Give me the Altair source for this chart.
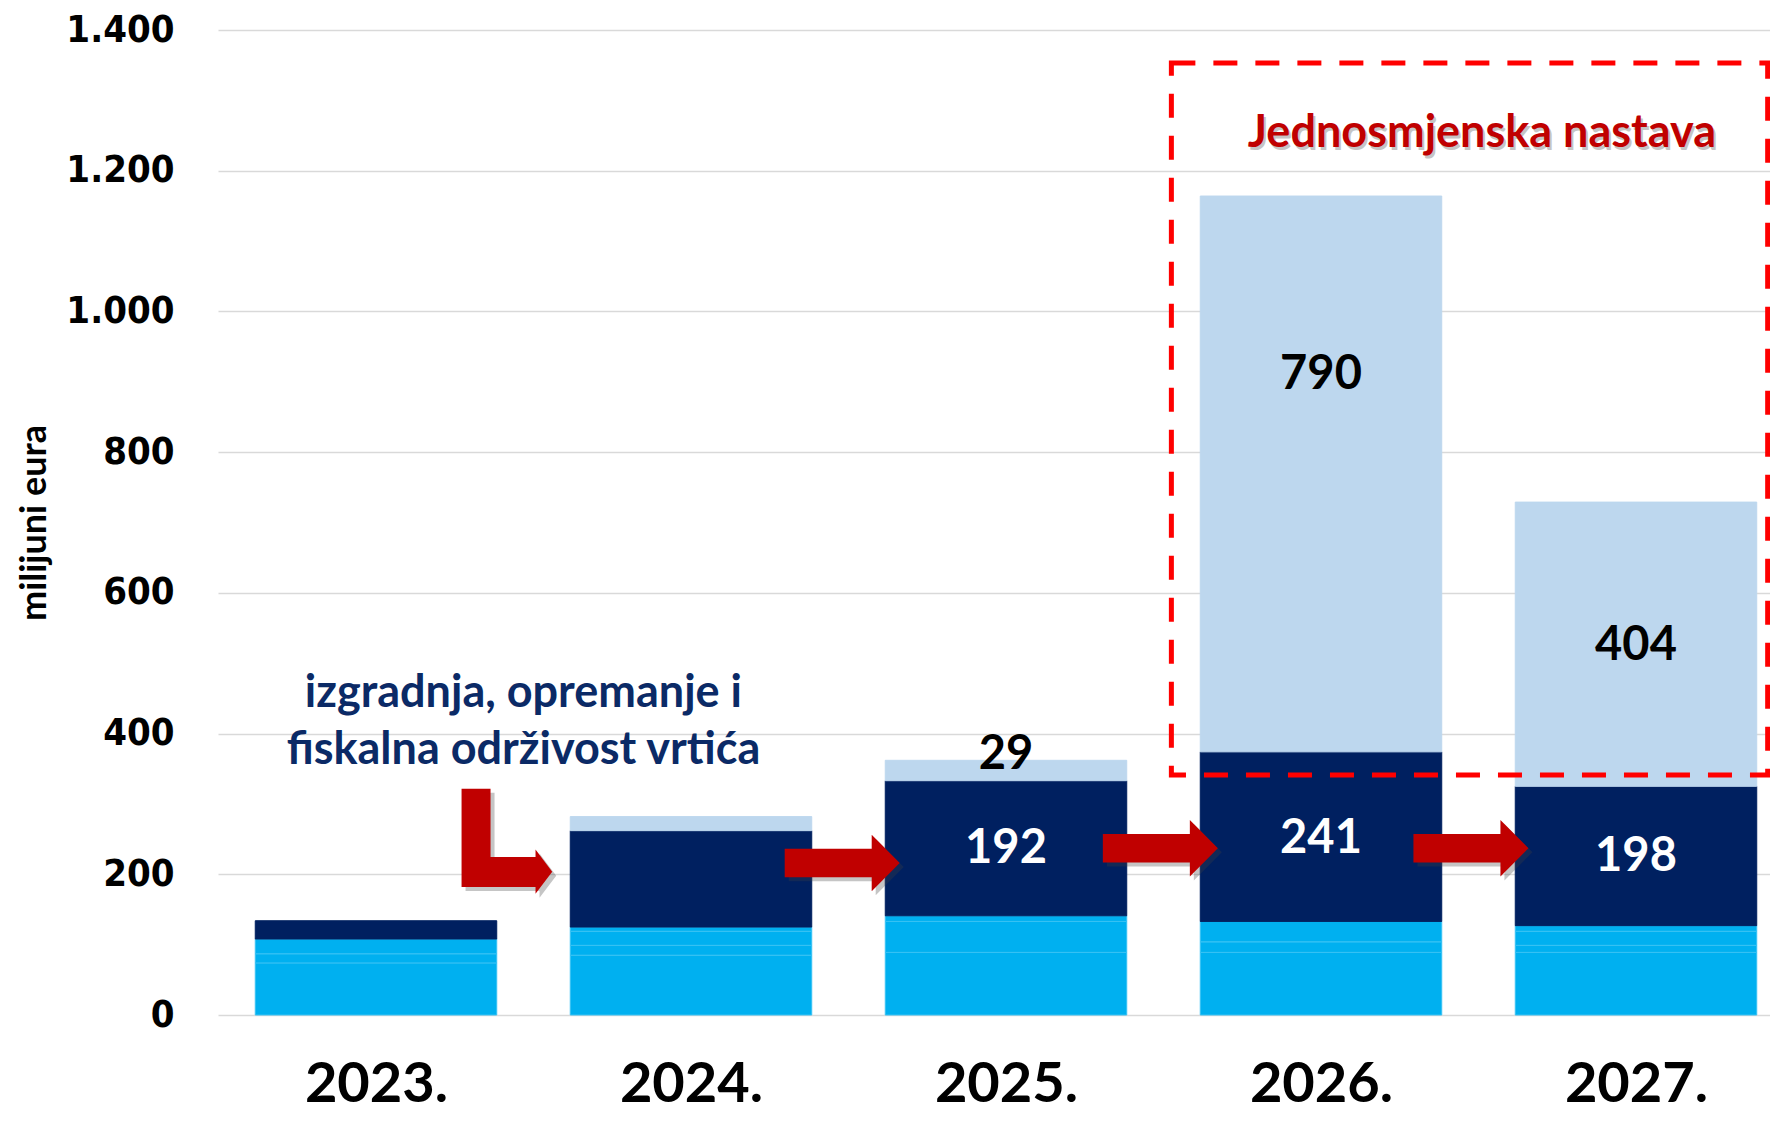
import json
import pandas as pd
import altair as alt

# ---------------- data ----------------
years = ["2023.", "2024.", "2025.", "2026.", "2027."]
cyan_a = [74, 85, 89, 89, 89]
cyan_b = [13, 14, 44, 15, 10]
cyan_c = [21, 20, 8, 29, 20]
cyan_d = [0, 6, 0, 0, 8]
navy_vals = [26, 137, 192, 241, 198]
light_vals = [0, 20, 29, 790, 404]

label_year = ["2025.", "2025.", "2026.", "2026.", "2027.", "2027."]
label_text = ["29", "192", "241", "790", "198", "404"]
label_series = ["light", "navy", "navy", "light", "navy", "light"]
label_at = [370, 236, 250, 909, 224, 524]

series_names = ["c1", "c2", "c3", "c4", "navy", "light"]
series_fill = ["#00B0F0", "#00B0F0", "#00B0F0", "#00B0F0", "#002060", "#BDD7EE"]
series_stroke = ["#38C2F4", "#38C2F4", "#38C2F4", "#38C2F4", "#002060", "#BDD7EE"]

# annotation positions (x in year-index units, y in data units)
box_x = [2.525, 4.418]
box_y = [341, 1353]
note_text = "izgradnja, opremanje i\nfiskalna održivost vrtića"
note_pos = [0.468, 457]
title_text = "Jednosmjenska nastava"
title_pos = [3.511, 1253]
h_arrow_u = [1.48, 2.49, 3.476]
h_arrow_v = [216, 237, 237]
l_arrow_pos = [0.4156, 247]

# ---------------- tables ----------------
rows = []
cols = [cyan_a, cyan_b, cyan_c, cyan_d, navy_vals, light_vals]
for i, y in enumerate(years):
    for k, s in enumerate(series_names):
        v = cols[k][i]
        if v > 0:
            rows.append({"year": y, "idx": i, "series": s, "value": v, "order": k})
df_bars = pd.DataFrame(rows)

df_labels = pd.DataFrame({
    "idx": [years.index(y) for y in label_year],
    "text": label_text,
    "series": label_series,
    "at": label_at,
})
df_box = pd.DataFrame({"x0": [box_x[0]], "x1": [box_x[1]], "y0": [box_y[0]], "y1": [box_y[1]]})
df_note = pd.DataFrame({"u": [note_pos[0]], "v": [note_pos[1]], "t": [note_text]})
df_title = pd.DataFrame({"u": [title_pos[0]], "v": [title_pos[1]], "t": [title_text]})
df_harrows = pd.DataFrame({"u": h_arrow_u, "v": h_arrow_v})
df_larrow = pd.DataFrame({"u": [l_arrow_pos[0]], "v": [l_arrow_pos[1]]})

# ---------------- scales / axes ----------------
W, H = 1552, 985
xs = alt.Scale(domain=[-0.5016, 4.4254], nice=False, zero=False)
ys = alt.Scale(domain=[0, 1400], nice=False)

x_axis = alt.Axis(
    values=list(range(len(years))),
    labelExpr=json.dumps(years) + "[datum.value]",
    grid=False, domain=False, ticks=False,
    labelFont="Lato", labelFontWeight="bold", labelFontSize=56,
    labelColor="black", labelPadding=86, labelBaseline="alphabetic",
    title=None,
)
y_axis = alt.Axis(
    values=list(range(0, 1401, 200)),
    labelExpr="replace(format(datum.value, ','), ',', '.')",
    grid=True, gridColor="#D9D9D9", gridWidth=1.6,
    domain=False, ticks=False,
    labelFont="DejaVu Sans Condensed", labelFontWeight="bold", labelFontSize=38,
    labelColor="black", labelPadding=44,
    title="milijuni eura",
    titleFont="Lato", titleFontWeight="bold", titleFontSize=36,
    titleColor="black", titleAngle=270, titleX=-184, titleY=H / 2,
    titleAlign="center", titleBaseline="middle",
)


def X(field):
    return alt.X(field, scale=xs, axis=x_axis)


def Y(field):
    return alt.Y(field, scale=ys, axis=y_axis)


half = 0.3833
bars = alt.Chart(df_bars).transform_stack(
    stack="value", groupby=["idx"], as_=["v0", "v1"],
    sort=[alt.SortField("order", order="ascending")],
).transform_calculate(
    x0=f"datum.idx - {half}", x1=f"datum.idx + {half}"
).mark_bar(strokeWidth=1).encode(
    x=X("x0:Q"),
    x2="x1:Q",
    y=Y("v0:Q"),
    y2="v1:Q",
    fill=alt.Fill("series:N", scale=alt.Scale(domain=series_names, range=series_fill), legend=None),
    stroke=alt.Stroke("series:N", scale=alt.Scale(domain=series_names, range=series_stroke), legend=None),
)


def label_layer(series, color):
    return alt.Chart(df_labels).transform_filter(
        alt.datum.series == series
    ).mark_text(
        font="Lato", fontWeight="bold", fontSize=47, align="center", baseline="middle",
        color=color,
    ).encode(x=X("idx:Q"), y=Y("at:Q"), text="text:N")


labels_white = label_layer("navy", "#FFFFFF")
labels_black = label_layer("light", "#000000")

box = alt.Chart(df_box).mark_rect(
    fillOpacity=0, stroke="#FF0000", strokeWidth=5, strokeDash=[24, 18]
).encode(x=X("x0:Q"), x2="x1:Q", y=Y("y0:Q"), y2="y1:Q")

note = alt.Chart(df_note).mark_text(
    font="Lato", fontWeight="bold", fontSize=45, align="center", baseline="middle",
    lineHeight=57, lineBreak="\n", color="#0B2A66",
).encode(x=X("u:Q"), y=Y("v:Q"), text="t:N")

title_shadow = alt.Chart(df_title).mark_text(
    font="Lato", fontWeight="bold", fontSize=45, align="center", baseline="middle",
    color="#7F7F7F", opacity=0.45, xOffset=2, yOffset=3,
).encode(x=X("u:Q"), y=Y("v:Q"), text="t:N")
title = alt.Chart(df_title).mark_text(
    font="Lato", fontWeight="bold", fontSize=45, align="center", baseline="middle",
    color="#C00000",
).encode(x=X("u:Q"), y=Y("v:Q"), text="t:N")

h_path = "M -1 -0.247 L 0.513 -0.247 L 0.513 -0.49 L 1 0 L 0.513 0.49 L 0.513 0.247 L -1 0.247 Z"
l_path = ("M -0.864 -1 L -0.312 -1 L -0.312 0.303 L 0.545 0.303 L 0.545 0.16 "
          "L 0.863 0.58 L 0.545 1 L 0.545 0.874 L -0.864 0.874 Z")


def arrow_layer(df, path, size, color, opacity=1.0, off=0):
    return alt.Chart(df).mark_point(
        shape=path, filled=True, size=size, color=color, opacity=opacity,
        strokeWidth=0, xOffset=off, yOffset=off,
    ).encode(x=X("u:Q"), y=Y("v:Q"))


h_shadow = arrow_layer(df_harrows, h_path, 13225, "#404040", 0.3, 4)
h_arrows = arrow_layer(df_harrows, h_path, 13225, "#C00000")
l_shadow = arrow_layer(df_larrow, l_path, 11025, "#404040", 0.3, 4)
l_arrow = arrow_layer(df_larrow, l_path, 11025, "#C00000")

chart = alt.layer(
    bars, labels_white, labels_black, box, note, title_shadow, title,
    h_shadow, h_arrows, l_shadow, l_arrow
).properties(
    width=W, height=H,
    background="white",
    autosize=alt.AutoSizeParams(type="none"),
    padding={"left": 210, "top": 22, "right": 0, "bottom": 98},
).configure_view(strokeWidth=0)

chart.save("out.html", embed_options={"renderer": "svg", "actions": False})
